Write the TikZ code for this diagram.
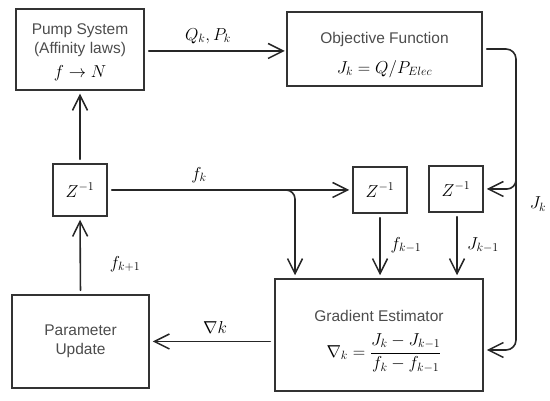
\documentclass[tikz,border=0pt]{standalone}
\usepackage[no-math]{fontspec}
\setmainfont{Liberation Sans}
\usetikzlibrary{arrows.meta}
\begin{document}
\begin{tikzpicture}[x=1pt,y=-1pt,
  box/.style={draw=black!80,line width=1.5pt,inner sep=0pt,align=center,font=\fontsize{15.5}{18.5}\selectfont,text=black!70},
  txt/.style={inner sep=0pt,align=center,font=\fontsize{15.5}{18.5}\selectfont,text=black!70},
  conn/.style={draw=black!85,line width=1.6pt,line cap=round,line join=round,-{Straight Barb[length=15pt,width=15pt,line width=1.5pt]},shorten <=4pt,shorten >=3pt},
  lbl/.style={font=\fontsize{18}{20}\selectfont}]
\useasboundingbox (0,0) rectangle (550,401);
\node[box,minimum width=128pt,minimum height=81pt] (pump) at (80,49.5) {};
\node[txt] (pumpt) at (80,40) {Pump System\\(Affinity laws)};
\node[lbl] (pumpm) at (80,73) {$f \to N$};
\node[box,minimum width=195pt,minimum height=74pt] (obj) at (384.5,49) {};
\node[txt] (objt) at (384.5,39) {Objective Function};
\node[lbl] (objm) at (384.5,69) {$J_k = Q/P_{Elec}$};
\node[box,minimum width=54pt,minimum height=52pt] (z1) at (80,190) {};
\node[lbl] at (z1) {$Z^{-1}$};
\node[box,minimum width=54pt,minimum height=46pt] (z2) at (380,190) {};
\node[lbl] at (z2) {$Z^{-1}$};
\node[box,minimum width=54pt,minimum height=46pt] (z3) at (456,189) {};
\node[lbl] at (z3) {$Z^{-1}$};
\node[box,minimum width=137pt,minimum height=93pt] (par) at (80.5,341.5) {Parameter\\Update};
\node[box,minimum width=208pt,minimum height=112pt] (grad) at (379,335) {};
\node[txt] (gradt) at (379,316) {Gradient Estimator};
\node[lbl] (gradm) at (384,353) {$\nabla_k = \displaystyle\frac{J_k - J_{k-1}}{f_k - f_{k-1}}$};
% connectors
\draw[conn,shorten >=1.5pt] (pump.east |- 0,51) -- (obj.west |- 0,51);
\node[lbl] (lqp) at (208,36) {$Q_k, P_k$};
\coordinate (jr) at (516,49);
\draw[conn,rounded corners=10pt] (obj.east) -- (jr) -- (516,350) -- (grad.east |- 0,350);
\draw[conn,rounded corners=9pt,shorten <=0pt] (516,170) -- (516,189) -- (z3.east |- 0,189);
\node[lbl] (ljk) at (538,204) {$J_k$};
\draw[conn] (z1.east) -- (z2.west);
\node[lbl] (lfk) at (199,175) {$f_k$};
\draw[conn,rounded corners=9pt,shorten <=0pt] (280,190) -- (295,190) -- (grad.north -| 295,0);
\draw[conn] (z2.south) -- (grad.north -| z2.south);
\node[lbl] (lfk1) at (406,245) {$f_{k-1}$};
\draw[conn] (z3.south -| 457,0) -- (grad.north -| 457,0);
\node[lbl] (ljk1) at (483,245) {$J_{k-1}$};
\draw[conn] (z1.north) -- (pump.south -| z1.north);
\draw[conn] (par.north) -- (z1.south);
\node[lbl] (lfkp) at (125,264) {$f_{k+1}$};
\draw[conn] (grad.west |- 0,341.5) -- (par.east |- 0,341.5);
\node[lbl] (lnab) at (215,328) {$\nabla k$};
\end{tikzpicture}
\end{document}
